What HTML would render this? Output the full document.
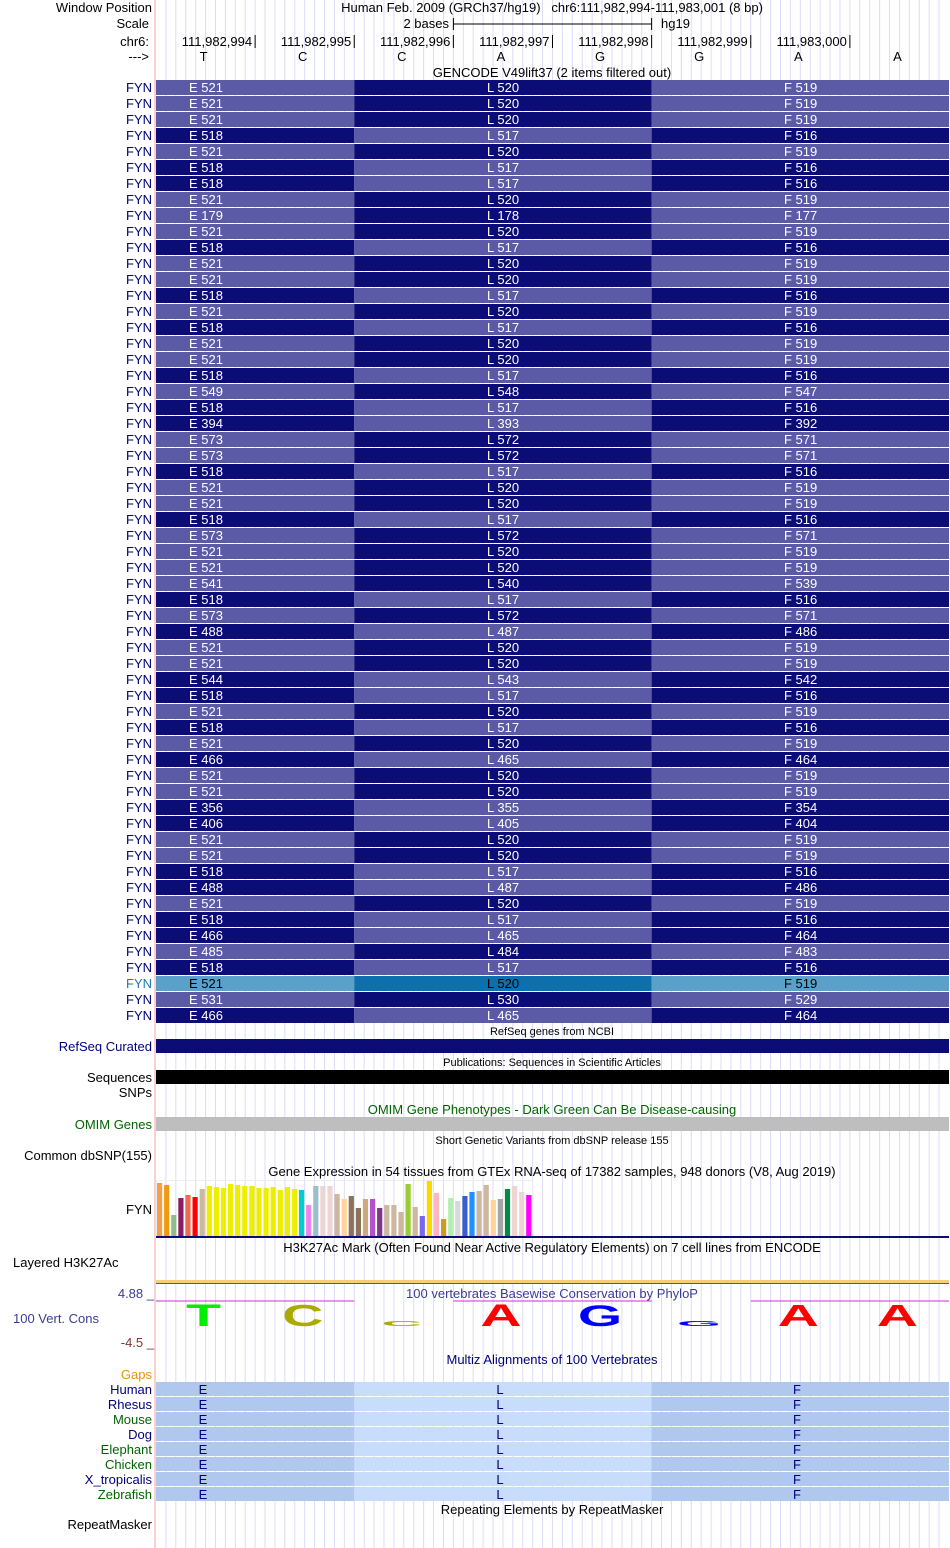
<!DOCTYPE html>
<html><head><meta charset="utf-8">
<style>
body{margin:0;background:#fff;width:950px;height:1548px;overflow:hidden}
svg{display:block;font-family:"Liberation Sans",sans-serif}
</style></head>
<body>
<svg id="s" width="950" height="1548" xmlns="http://www.w3.org/2000/svg"></svg>
<script>
const exonE = [521,521,521,518,521,518,518,521,179,521,518,521,521,518,521,518,521,521,518,549,518,394,573,573,518,521,521,518,573,521,521,541,518,573,488,521,521,544,518,521,518,521,466,521,521,356,406,521,521,518,488,521,518,466,485,518,521,531,466];
const highlightRow = 56;
const bases = ["T","C","C","A","G","G","A","A"];
const positions = ["111,982,994","111,982,995","111,982,996","111,982,997","111,982,998","111,982,999","111,983,000"];
const gtexValues = [53,51,21,38,41,39,47,50,49,48,52,51,50,50,48,48,49,46,49,47,46,31,50,50,50,42,37,40,28,37,37,28,31,31,24,52,29,20,55,43,17,38,35,40,44,45,51,36,37,47,50,44,41];
const gtexColors = ["#f4a04a","#f09a10","#8fbc8f","#8b1c62","#ee6a50","#ff0000","#cdb79e","#eeee00","#eeee00","#eeee00","#eeee00","#eeee00","#eeee00","#eeee00","#eeee00","#eeee00","#eeee00","#eeee00","#eeee00","#eeee00","#00cdcd","#ee82ee","#9ac0cd","#eed5d2","#eed5d2","#cdb79e","#ffd39b","#8b7355","#8b7355","#cdaa7d","#b452cd","#7a378b","#cdb79e","#cdb79e","#cdb79e","#9acd32","#cdb79e","#7a67ee","#ffd700","#ffb6c1","#cd9b1d","#b4eeb4","#d9d9d9","#3a5fcd","#1e90ff","#cdb79e","#cdb79e","#ffd39b","#a6a6a6","#008b45","#eed5d2","#eed5d2","#ff00ff"];
const consValues = [4.3,4.2,1.0,4.3,4.1,1.0,4.2,4.2];
const species = ["Human","Rhesus","Mouse","Dog","Elephant","Chicken","X_tropicalis","Zebrafish"];
const speciesColors = ["#000080","#000080","#006400","#000080","#006400","#006400","#000080","#006400"];

const S=document.getElementById('s');const NS="http://www.w3.org/2000/svg";
const X0=156,BW=(949-156)/8;
const bx=i=>X0+BW*i;
function el(t,a,p){const e=document.createElementNS(NS,t);for(const k in a)e.setAttribute(k,a[k]);(p||S).appendChild(e);return e;}
function txt(x,y,s,o){o=o||{};const e=el('text',{x:x,y:y,'font-size':o.fs||13,fill:o.fill||'#000','text-anchor':o.anchor||'start'});e.textContent=s;return e;}

// grid
for(let k=1;k<80;k++){const l=el('line',{x1:X0+k*BW/10,x2:X0+k*BW/10,y1:0,y2:1548,stroke:'#dcdcf6','stroke-width':1});

}
const red=el('line',{x1:155,x2:155,y1:0,y2:1548,stroke:'#f4a0a0','stroke-width':1});



// header
let t;
t=txt(152,12,"Window Position",{anchor:'end'});
t=txt(552,12,"Human Feb. 2009 (GRCh37/hg19)   chr6:111,982,994-111,983,001 (8 bp)",{anchor:'middle'});t.setAttribute('style','white-space:pre');
t=txt(149,28,"Scale",{anchor:'end'});
t=txt(449,28,"2 bases",{anchor:'end'});
const sb=el('path',{d:`M${bx(3)} 18v12M${bx(3)} 24H${bx(5)}M${bx(5)} 18v12`,stroke:'#000',fill:'none'});


t=txt(661,28,"hg19");
t=txt(149,46,"chr6:",{anchor:'end'});
positions.forEach((p,i)=>{const x=bx(i+1);
const a=txt(x-3,46,p,{anchor:'end'});
const tk=el('line',{x1:x,x2:x,y1:35,y2:48,stroke:'#000'});});
t=txt(149,61,"--->",{anchor:'end'});
bases.forEach((b,i)=>{const a=txt(bx(i)+BW/2-2,61,b,{anchor:'middle'});});
t=txt(552,77,"GENCODE V49lift37 (2 items filtered out)",{anchor:'middle'});

// gene rows
const cols=[[bx(0),bx(2),'E',0,189],[bx(2),bx(5),'L',-1,487],[bx(5),bx(8),'F',-2,784]];
exonE.forEach((v,i)=>{const y=80+16*i;const hl=i===highlightRow;const odd=v%2===1;
const lab=txt(152,y+12,"FYN",{anchor:'end',fill:hl?'#1a7ab8':'#000080'});
cols.forEach((c,j)=>{const light=(j===1)?!odd:odd;let col=light?'#5b5ba5':'#0c0c76';
if(hl)col=(j===1)?'#0e6fad':'#5ba0c8';
const r=el('rect',{x:c[0],y:y,width:c[1]-c[0],height:15,fill:col});
const tt=txt(c[4],y+12,c[2]+" "+(v+c[3]),{fill:hl?'#000':'#fff'});});});

// refseq, pubs, snps, omim
t=txt(552,1035,"RefSeq genes from NCBI",{anchor:'middle',fs:11});
t=txt(152,1051,"RefSeq Curated",{anchor:'end',fill:'#000080'});
let r=el('rect',{x:156,y:1039,width:793,height:14,fill:'#0c0c76'});
t=txt(552,1066,"Publications: Sequences in Scientific Articles",{anchor:'middle',fs:11});
t=txt(152,1082,"Sequences",{anchor:'end'});
r=el('rect',{x:156,y:1070,width:793,height:14,fill:'#000'});
t=txt(152,1097,"SNPs",{anchor:'end'});
t=txt(552,1114,"OMIM Gene Phenotypes - Dark Green Can Be Disease-causing",{anchor:'middle',fill:'#006400'});
t=txt(152,1129,"OMIM Genes",{anchor:'end',fill:'#006400'});
r=el('rect',{x:156,y:1117,width:793,height:14,fill:'#bebebe'});
t=txt(552,1144,"Short Genetic Variants from dbSNP release 155",{anchor:'middle',fs:11});
t=txt(152,1160,"Common dbSNP(155)",{anchor:'end'});

// GTEx
t=txt(552,1176,"Gene Expression in 54 tissues from GTEx RNA-seq of 17382 samples, 948 donors (V8, Aug 2019)",{anchor:'middle'});
t=txt(152,1214,"FYN",{anchor:'end'});
const gBase=1236,gScale=1.0,gStep=7.1;
const box=el('rect',{x:156.5,y:1180.5,width:376,height:55,fill:'none',stroke:'#eeeeee'});
gtexValues.forEach((v,i)=>{const h=v*gScale;const b=el('rect',{x:157+i*gStep,y:gBase-h,width:5.2,height:h,fill:gtexColors[i]});

});
r=el('rect',{x:156,y:1236,width:793,height:2,fill:'#0c0c76'});

// H3K27Ac
t=txt(552,1252,"H3K27Ac Mark (Often Found Near Active Regulatory Elements) on 7 cell lines from ENCODE",{anchor:'middle'});
t=txt(13,1267,"Layered H3K27Ac");
r=el('rect',{x:156,y:1280,width:793,height:3,fill:'#f5cf78'});
r=el('rect',{x:156,y:1283,width:793,height:1,fill:'#2f6f6f'});

// Conservation
t=txt(552,1298,"100 vertebrates Basewise Conservation by PhyloP",{anchor:'middle',fill:'#3c3c96'});
t=txt(154,1298,"4.88 _",{anchor:'end',fill:'#3c3c96'});
t=txt(154,1347,"-4.5 _",{anchor:'end',fill:'#8b3030'});
t=txt(13,1323,"100 Vert. Cons",{fill:'#3c3c96'});
[[bx(0),bx(2)],[bx(3),bx(5)],[bx(6),bx(8)]].forEach(s=>{const l=el('line',{x1:s[0],x2:s[1],y1:1301,y2:1301,stroke:'#e020e0'});});
const letterCol={A:'#ff0000',C:'#aaaa00',G:'#0000ff',T:'#00ee00'};
const yCons=v=>v/4.88*25.5;
bases.forEach((b,i)=>{const h=yCons(consValues[i]);const cx=bx(i)+BW/2-2;const sy=h/21.6;
const e=el('text',{x:0,y:0,'font-size':30,'font-weight':'bold',fill:letterCol[b],'text-anchor':'middle',transform:`translate(${cx},1326) scale(1.9,${sy})`});e.textContent=b;

});

// Multiz
t=txt(552,1364,"Multiz Alignments of 100 Vertebrates",{anchor:'middle',fill:'#000080'});
t=txt(152,1379,"Gaps",{anchor:'end',fill:'#f0900a'});
const mcols=[[bx(0),bx(2),'E',203],[bx(2),bx(5),'L',500],[bx(5),bx(8),'F',797]];
species.forEach((s,i)=>{const y=1382+15*i;
const l=txt(152,y+12,s,{anchor:'end',fill:speciesColors[i]});
mcols.forEach((c,j)=>{const rr=el('rect',{x:c[0],y:y,width:c[1]-c[0],height:14,fill:j===1?'#c8dcfc':'#b0c8ee'});
const a=txt(c[3],y+12,c[2],{fill:'#000080',anchor:'middle'});});});

t=txt(552,1514,"Repeating Elements by RepeatMasker",{anchor:'middle'});
t=txt(152,1529,"RepeatMasker",{anchor:'end'});
</script>
</body></html>
